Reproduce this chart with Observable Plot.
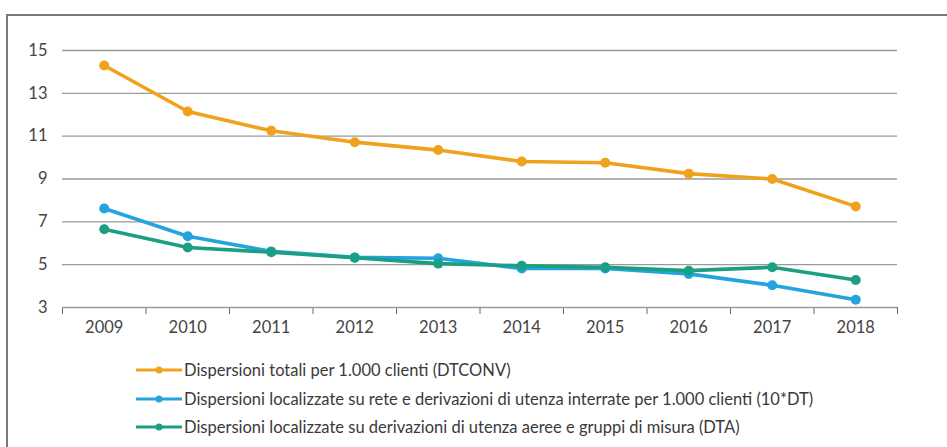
<!DOCTYPE html>
<html>
<head>
<meta charset="utf-8">
<script src="https://cdn.jsdelivr.net/npm/d3@7"></script>
<script src="https://cdn.jsdelivr.net/npm/@observablehq/plot@0.6"></script>
<style>
  html, body { margin: 0; padding: 0; background: #fff; }
  #wrap { position: relative; width: 947px; height: 447px; overflow: hidden; font-family: Lato, "Open Sans", sans-serif; }
  #frame { position: absolute; left: 6px; top: 14px; width: 960px; height: 460px; border-top: 2px solid #7a7a7a; border-left: 2px solid #7a7a7a; box-sizing: border-box; }
  #chart { position: absolute; left: 0; top: 0; }
  #legend { position: absolute; left: 136px; top: 356px; font-size: 16.5px; color: #3a3a3a; }
  .row { display: flex; align-items: center; height: 28.5px; }
  .row svg { margin-right: 2px; }
</style>
</head>
<body>
<div id="wrap">
  <div id="frame"></div>
  <div id="chart"></div>
  <div id="legend"></div>
</div>
<script>
// Anni e serie (dispersioni per 1.000 clienti)
const years = [2009, 2010, 2011, 2012, 2013, 2014, 2015, 2016, 2017, 2018];
const dtconv = [14.3, 12.15, 11.25, 10.72, 10.35, 9.82, 9.76, 9.25, 9.0, 7.72];
const dt10 = [7.62, 6.33, 5.62, 5.34, 5.3, 4.82, 4.82, 4.57, 4.04, 3.36];
const dta = [6.65, 5.8, 5.58, 5.32, 5.05, 4.95, 4.88, 4.72, 4.88, 4.28];

const seriesNames = [
  "Dispersioni totali per 1.000 clienti (DTCONV)",
  "Dispersioni localizzate su rete e derivazioni di utenza interrate per 1.000 clienti (10*DT)",
  "Dispersioni localizzate su derivazioni di utenza aeree e gruppi di misura (DTA)"
];
const seriesColors = ["#f0a11e", "#25a3dc", "#1a9f82"];
const seriesValues = [dtconv, dt10, dta];

const yTicks = [3, 5, 7, 9, 11, 13, 15];
// confini tra gli anni, dove cadono le tacche dell'asse orizzontale
const yearBounds = [2008.5, 2009.5, 2010.5, 2011.5, 2012.5, 2013.5, 2014.5, 2015.5, 2016.5, 2017.5, 2018.5];

const data = seriesNames.flatMap((name, s) =>
  years.map((year, i) => ({ series: name, year, value: seriesValues[s][i] }))
);

const plot = Plot.plot({
  width: 947,
  height: 345,
  marginLeft: 62,
  marginRight: 50,
  marginTop: 50,
  marginBottom: 38,
  style: { fontFamily: "Lato, 'Open Sans', sans-serif", fontSize: "16.5px", color: "#666", background: "transparent" },
  x: {
    type: "linear",
    domain: [2008.5, 2018.5],
    ticks: yearBounds,
    tickSize: 7,
    tickFormat: () => "",
    label: null
  },
  y: {
    domain: [3, 15],
    ticks: yTicks,
    tickSize: 0,
    tickPadding: 15,
    label: null
  },
  color: { domain: seriesNames, range: seriesColors },
  marks: [
    Plot.ruleY(yTicks, { stroke: "#9a9a9a", strokeWidth: 1.3 }),
    Plot.text(years, { x: d => d, frameAnchor: "bottom", dy: 25, text: d => String(d), fill: "#444" }),
    Plot.lineY(data, { x: "year", y: "value", stroke: "series", strokeWidth: 3.6 }),
    Plot.dot(data, { x: "year", y: "value", fill: "series", r: 5 })
  ]
});
plot.querySelectorAll("[aria-label='y-axis tick label'] text, [aria-label='y-axis'] text").forEach(t => t.setAttribute("fill", "#444"));
document.getElementById("chart").appendChild(plot);

// Legenda
const legend = d3.select("#legend");
seriesNames.forEach((name, s) => {
  const row = legend.append("div").attr("class", "row");
  const sw = row.append("svg").attr("width", 46).attr("height", 12);
  sw.append("line").attr("x1", 0).attr("x2", 46).attr("y1", 6).attr("y2", 6)
    .attr("stroke", seriesColors[s]).attr("stroke-width", 3);
  sw.append("circle").attr("cx", 23).attr("cy", 6).attr("r", 3.5).attr("fill", seriesColors[s]);
  row.append("span").text(name);
});
</script>
</body>
</html>
